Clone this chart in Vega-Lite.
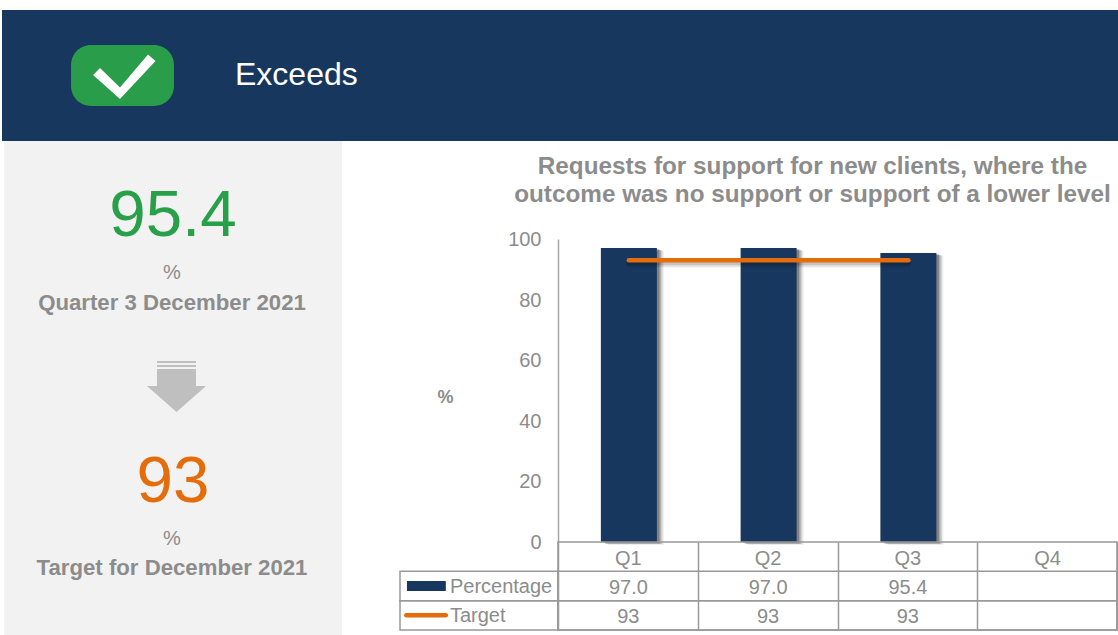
{
  "$schema": "https://vega.github.io/schema/vega-lite/v6.json",
  "padding": {"left": 2, "top": 10, "right": 0, "bottom": 0},
  "background": "white",
  "config": {
    "view": {"stroke": null},
    "text": {"font": "Liberation Sans"},
    "axis": {"labelFont": "Liberation Sans", "titleFont": "Liberation Sans"}
  },
  "datasets": {
    "quarters": [
      {"quarter": "Q1", "percentage": 97.0, "target": 93},
      {"quarter": "Q2", "percentage": 97.0, "target": 93},
      {"quarter": "Q3", "percentage": 95.4, "target": 93},
      {"quarter": "Q4", "percentage": null, "target": null}
    ],
    "series": [
      {"series": "Percentage"},
      {"series": "Target"}
    ]
  },
  "bounds": "flush",
  "spacing": 0,
  "vconcat": [
    {
      "width": 1116,
      "height": 131,
      "view": {"fill": "#17375e", "stroke": null},
      "data": {"values": [{"status": "Exceeds"}]},
      "layer": [
        {
          "mark": {"type": "point", "filled": true, "opacity": 1, "size": 14400, "color": "#2a9d4b",
            "shape": "M-.525-.508H.525C.709-.508 .858-.359 .858-.175V.175C.858 .359 .709 .508 .525 .508H-.525C-.709 .508-.858 .359-.858 .175V-.175C-.858-.359-.709-.508-.525-.508Z"},
          "encoding": {
            "x": {"datum": "icon", "type": "nominal", "axis": null,
              "scale": {"type": "point", "domain": ["icon", "label"], "range": [120.5, 233], "padding": 0}}
          }
        },
        {
          "mark": {"type": "point", "filled": true, "opacity": 1, "size": 14400, "color": "white",
            "shape": "M-.49-.008L-.375-.125L-.042 .2L.425-.35L.55-.242L-.042 .392Z"},
          "encoding": {"x": {"datum": "icon", "type": "nominal", "axis": null}}
        },
        {
          "mark": {"type": "text", "align": "left", "baseline": "middle", "fontSize": 32, "color": "white", "dy": -1},
          "encoding": {
            "x": {"datum": "label", "type": "nominal", "axis": null},
            "text": {"field": "status"}
          }
        }
      ]
    },
    {
      "bounds": "flush",
      "spacing": 216,
      "hconcat": [
        {
          "width": 340,
          "height": 494,
          "layer": [
            {
              "data": {"values": [{"panel": "summary"}]},
              "mark": {"type": "rect", "color": "#f2f2f2"},
              "encoding": {
                "x": {"datum": 0, "type": "quantitative", "axis": null, "scale": {"domain": [0, 1], "range": [2, 340]}},
                "x2": {"datum": 1}
              }
            },
            {
              "data": {"values": [{"slot": "actual", "label": "95.4"}]},
              "mark": {"type": "text", "fontSize": 65.5, "color": "#28a04a", "baseline": "middle", "dx": 1, "dy": 3},
              "encoding": {
                "y": {"field": "slot", "type": "nominal", "axis": null,
                  "scale": {"type": "point", "padding": 0, "range": [72, 426],
                    "domain": ["actual", "gap1", "actual unit", "actual period", "gap2", "gap3", "trend", "gap4", "gap5", "target", "gap6", "target unit", "target period"]}},
                "text": {"field": "label"}
              }
            },
            {
              "data": {"values": [{"slot": "target", "label": "93"}]},
              "mark": {"type": "text", "fontSize": 65.5, "color": "#e46c0a", "baseline": "middle", "dx": 1, "dy": 3},
              "encoding": {
                "y": {"field": "slot", "type": "nominal", "axis": null},
                "text": {"field": "label"}
              }
            },
            {
              "data": {"values": [{"slot": "actual unit", "label": "%"}, {"slot": "target unit", "label": "%"}]},
              "mark": {"type": "text", "fontSize": 20, "color": "#8c8c8c", "baseline": "middle", "dy": 1},
              "encoding": {
                "y": {"field": "slot", "type": "nominal", "axis": null},
                "text": {"field": "label"}
              }
            },
            {
              "data": {"values": [
                {"slot": "actual period", "label": "Quarter 3 December 2021"},
                {"slot": "target period", "label": "Target for December 2021"}
              ]},
              "mark": {"type": "text", "fontSize": 22.2, "fontWeight": "bold", "color": "#8c8c8c", "baseline": "middle", "dy": 1},
              "encoding": {
                "y": {"field": "slot", "type": "nominal", "axis": null},
                "text": {"field": "label"}
              }
            },
            {
              "data": {"values": [{"slot": "trend"}]},
              "mark": {"type": "point", "filled": true, "opacity": 1, "size": 3600, "color": "#bfbfbf",
                "shape": "M-.5-.967H.8V-.9H-.5Z M-.5-.833H.8V-.767H-.5Z M-.5-.7H.8V-.133H1.133L.15 .733L-.833-.133H-.5Z"},
              "encoding": {"y": {"field": "slot", "type": "nominal", "axis": null}}
            }
          ]
        },
        {
          "bounds": "flush",
          "spacing": 0,
          "vconcat": [
            {
              "width": 559,
              "height": 98,
              "data": {"values": [{"heading": ["Requests for support for new clients, where the", "outcome was no support or support of a lower level"]}]},
              "mark": {"type": "text", "fontSize": 24.3, "fontWeight": "bold", "color": "#8c8c8c", "lineHeight": 28, "baseline": "middle", "dx": -25, "dy": -23},
              "encoding": {"text": {"field": "heading"}}
            },
            {
              "width": 559,
              "height": 303,
              "data": {"name": "quarters"},
              "encoding": {
                "x": {"field": "quarter", "type": "nominal", "axis": null,
                  "scale": {"domain": ["Q1", "Q2", "Q3", "Q4"], "paddingInner": 0, "paddingOuter": 0}},
                "y": {"field": "percentage", "type": "quantitative",
                  "scale": {"domain": [0, 100]},
                  "axis": {
                    "values": [0, 20, 40, 60, 80, 100], "grid": false, "ticks": false,
                    "domainColor": "#a6a6a6", "domainWidth": 1.5,
                    "labelFontSize": 20, "labelColor": "#8c8c8c", "labelPadding": 17, "labelOffset": 0.5,
                    "title": "%", "titleFontSize": 18, "titleFontWeight": "bold", "titleColor": "#8c8c8c",
                    "titleAngle": 0, "titleAlign": "center", "titleBaseline": "middle", "titleX": -113, "titleY": 158
                  }}
              },
              "layer": [
                {"mark": {"type": "bar", "size": 56, "xOffset": 8, "yOffset": 3, "color": "#000000", "opacity": 0.07}},
                {"mark": {"type": "bar", "size": 56, "xOffset": 6.5, "yOffset": 2, "color": "#000000", "opacity": 0.12}},
                {"mark": {"type": "bar", "size": 56, "xOffset": 5, "yOffset": 2, "color": "#000000", "opacity": 0.18}},
                {"mark": {"type": "bar", "size": 56, "xOffset": 3.5, "yOffset": 1, "color": "#000000", "opacity": 0.24}},
                {"mark": {"type": "bar", "size": 56, "xOffset": 1, "color": "#17375e"}},
                {
                  "mark": {"type": "line", "strokeWidth": 6, "strokeCap": "round", "color": "#000000", "opacity": 0.1, "xOffset": 1, "yOffset": 4},
                  "encoding": {"y": {"field": "target", "type": "quantitative"}}
                },
                {
                  "mark": {"type": "line", "strokeWidth": 4, "strokeCap": "round", "color": "#000000", "opacity": 0.14, "xOffset": 1, "yOffset": 3},
                  "encoding": {"y": {"field": "target", "type": "quantitative"}}
                },
                {
                  "mark": {"type": "line", "strokeWidth": 4.5, "strokeCap": "round", "color": "#e46c0a", "xOffset": 1},
                  "encoding": {"y": {"field": "target", "type": "quantitative"}}
                }
              ]
            },
            {
              "width": 559,
              "height": 88,
              "view": {"stroke": "#999999", "strokeWidth": 1.5},
              "resolve": {"scale": {"x": "independent"}, "axis": {"x": "independent"}},
              "layer": [
                {
                  "data": {"name": "quarters"},
                  "mark": {"type": "text", "fontSize": 20, "color": "#8c8c8c", "dx": 0.5, "dy": 2},
                  "encoding": {
                    "x": {"field": "quarter", "type": "nominal",
                      "scale": {"domain": ["Q1", "Q2", "Q3", "Q4"], "paddingInner": 0, "paddingOuter": 0},
                      "axis": {"title": null, "labels": false, "ticks": false, "domain": false, "grid": true, "gridColor": "#999999", "gridWidth": 1.5, "tickBand": "extent"}},
                    "y": {"datum": "Quarter", "type": "nominal", "axis": null,
                      "scale": {"domain": ["Quarter", "Percentage", "Target"], "paddingInner": 0, "paddingOuter": 0}},
                    "text": {"field": "quarter"}
                  }
                },
                {
                  "data": {"name": "quarters"},
                  "transform": [{"filter": "isValid(datum.percentage)"}],
                  "mark": {"type": "text", "fontSize": 20, "color": "#8c8c8c", "dx": 0.5, "dy": 2},
                  "encoding": {
                    "x": {"field": "quarter", "type": "nominal", "axis": null,
                      "scale": {"domain": ["Q1", "Q2", "Q3", "Q4"], "paddingInner": 0, "paddingOuter": 0}},
                    "y": {"datum": "Percentage", "type": "nominal", "axis": null},
                    "text": {"field": "percentage", "type": "quantitative", "format": ".1f"}
                  }
                },
                {
                  "data": {"name": "quarters"},
                  "transform": [{"filter": "isValid(datum.target)"}],
                  "mark": {"type": "text", "fontSize": 20, "color": "#8c8c8c", "dx": 0.5, "dy": 2},
                  "encoding": {
                    "x": {"field": "quarter", "type": "nominal", "axis": null,
                      "scale": {"domain": ["Q1", "Q2", "Q3", "Q4"], "paddingInner": 0, "paddingOuter": 0}},
                    "y": {"datum": "Target", "type": "nominal", "axis": null},
                    "text": {"field": "target", "type": "quantitative", "format": "d"}
                  }
                },
                {
                  "data": {"name": "series"},
                  "mark": {"type": "rect", "fill": null, "stroke": "#999999", "strokeWidth": 1.5},
                  "encoding": {
                    "y": {"field": "series", "type": "nominal", "axis": null}
                  }
                },
                {
                  "data": {"name": "series"},
                  "mark": {"type": "rect", "fill": null, "stroke": "#999999", "strokeWidth": 1.5},
                  "encoding": {
                    "x": {"datum": 0, "type": "quantitative", "axis": null, "scale": {"domain": [0, 1], "range": [-158, 0]}},
                    "x2": {"datum": 1},
                    "y": {"field": "series", "type": "nominal", "axis": null}
                  }
                },
                {
                  "data": {"name": "series"},
                  "transform": [{"filter": "datum.series === 'Percentage'"}],
                  "mark": {"type": "bar", "size": 10, "color": "#17375e"},
                  "encoding": {
                    "x": {"datum": 0.044, "type": "quantitative", "axis": null, "scale": {"domain": [0, 1], "range": [-158, 0]}},
                    "x2": {"datum": 0.29},
                    "y": {"field": "series", "type": "nominal", "axis": null}
                  }
                },
                {
                  "data": {"name": "series"},
                  "transform": [{"filter": "datum.series === 'Target'"}],
                  "mark": {"type": "rule", "strokeWidth": 4.5, "strokeCap": "round", "color": "#e46c0a"},
                  "encoding": {
                    "x": {"datum": 0.04, "type": "quantitative", "axis": null, "scale": {"domain": [0, 1], "range": [-158, 0]}},
                    "x2": {"datum": 0.29},
                    "y": {"field": "series", "type": "nominal", "axis": null}
                  }
                },
                {
                  "data": {"name": "series"},
                  "mark": {"type": "text", "fontSize": 20, "color": "#8c8c8c", "align": "left", "dy": 1},
                  "encoding": {
                    "x": {"datum": 0.316, "type": "quantitative", "axis": null, "scale": {"domain": [0, 1], "range": [-158, 0]}},
                    "y": {"field": "series", "type": "nominal", "axis": null},
                    "text": {"field": "series"}
                  }
                }
              ]
            }
          ]
        }
      ]
    }
  ]
}
